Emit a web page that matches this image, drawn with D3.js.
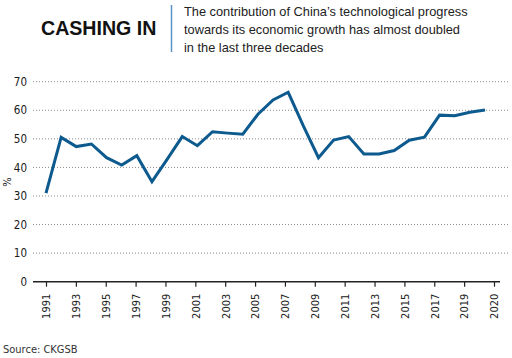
<!DOCTYPE html>
<html><head><meta charset="utf-8">
<script src="https://cdn.jsdelivr.net/npm/d3@7"></script>
<style>
html,body{margin:0;padding:0;background:#fff;}
svg{display:block;}
</style></head>
<body>
<script>
const years = d3.range(1991, 2021);
const values = [31, 50.5, 47.3, 48.2, 43.4, 40.8, 44.1, 35, 42.8, 50.8,
  47.6, 52.5, 52, 51.6, 58.6, 63.6, 66.3, 54.5, 43.4, 49.6,
  50.8, 44.7, 44.7, 45.9, 49.5, 50.6, 58.3, 58.1, 59.3, 60.1];
const tickLabels = ["1991","1993","1995","1997","1999","2001","2003","2005","2007","2009","2011","2013","2015","2017","2019","2020"];
const yTicks = [0,10,20,30,40,50,60,70];
const subtitleLines = ["The contribution of China\u2019s technological progress",
  "towards its economic growth has almost doubled",
  "in the last three decades"];

const W = 512, H = 358;
const svg = d3.select("body").append("svg").attr("width", W).attr("height", H);
const condensed = "'DejaVu Sans Condensed','DejaVu Sans',sans-serif";

const x = d3.scaleLinear().domain([1991, 2020]).range([46, 485]);
const xt = d3.scalePoint().domain(tickLabels).range([46, 494]);
const y = d3.scaleLinear().domain([0, 70]).range([281.7, 81.7]);

// title
svg.append("text").attr("x", 41).attr("y", 35)
  .attr("font-family", "'Liberation Sans',Arial,sans-serif").attr("font-weight", "bold")
  .attr("font-size", 19.6).attr("fill", "#111").text("CASHING IN");
svg.append("line").attr("x1", 171.5).attr("x2", 171.5).attr("y1", 5).attr("y2", 52)
  .attr("stroke", "#5b93c7").attr("stroke-width", 1.5);
svg.append("g").selectAll("text").data(subtitleLines).join("text")
  .attr("x", 184).attr("y", (d, i) => 16 + i * 18)
  .attr("font-family", "'Liberation Sans',Arial,sans-serif").attr("font-size", 12.8)
  .attr("fill", "#222").text(d => d);

// grid
const grid = svg.append("g");
grid.selectAll("line").data(yTicks.filter(d => d > 0)).join("line")
  .attr("x1", 33).attr("x2", 508).attr("y1", d => y(d)).attr("y2", d => y(d))
  .attr("stroke", "#8a8a8a").attr("stroke-width", 1).attr("stroke-dasharray", "1,2");

// y labels
const yAxis = d3.axisLeft(y).tickValues(yTicks).tickSize(0).tickPadding(0);
const yg = svg.append("g").attr("transform", "translate(27,0)").call(yAxis);
yg.select(".domain").remove();
yg.selectAll("text").attr("font-family", condensed).attr("font-size", 11.5).attr("fill", "#1a1a1a");

svg.append("text").attr("transform", "translate(11,182) rotate(-90)")
  .attr("text-anchor", "middle").attr("font-family", condensed).attr("font-size", 11)
  .attr("fill", "#222").text("%");

// x axis
const xAxis = d3.axisBottom(xt).tickSize(5).tickPadding(3);
const xg = svg.append("g").attr("transform", `translate(0,${y(0)})`).call(xAxis);
xg.select(".domain").remove();
xg.selectAll(".tick line").attr("stroke", "#222").attr("stroke-width", 1.2);
xg.selectAll("text").attr("font-family", condensed).attr("font-size", 11).attr("fill", "#222")
  .attr("transform", "rotate(-90)").attr("text-anchor", "end")
  .attr("x", -12).attr("y", 0).attr("dy", "0.35em");
svg.append("line").attr("x1", 33).attr("x2", 500).attr("y1", y(0)).attr("y2", y(0))
  .attr("stroke", "#222").attr("stroke-width", 1.5);

// line
const line = d3.line().x((d, i) => x(years[i])).y(d => y(d));
svg.append("path").datum(values).attr("d", line)
  .attr("fill", "none").attr("stroke", "#0d5a8f").attr("stroke-width", 3)
  .attr("stroke-linejoin", "miter");

// source
svg.append("text").attr("x", 3).attr("y", 353).attr("font-family", condensed)
  .attr("font-size", 11).attr("fill", "#333").text("Source: CKGSB");
</script>
</body></html>
